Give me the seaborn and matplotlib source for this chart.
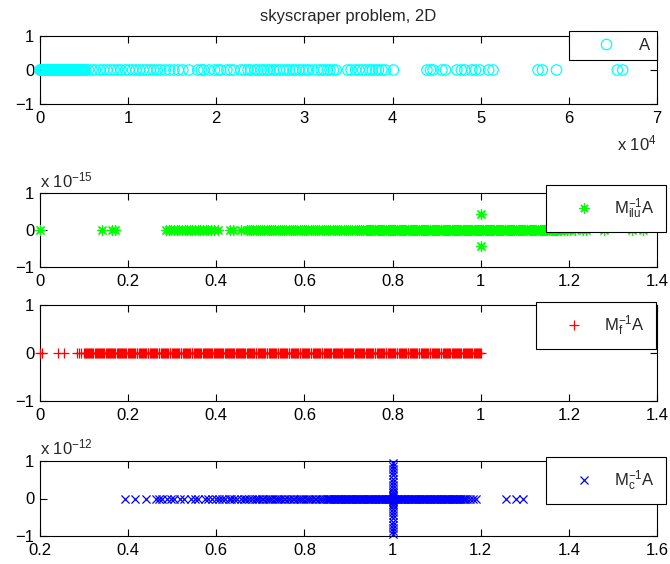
import matplotlib
matplotlib.use("Agg")
import matplotlib.pyplot as plt
from matplotlib.lines import Line2D
from matplotlib.ticker import FixedLocator, FuncFormatter
import seaborn as sns

# ---------------- data ----------------
title = "skyscraper problem, 2D"

# eigenvalues of A (real parts, units of 1e4); imaginary parts are 0
A_real_1e4 = [0.00, 0.01, 0.02, 0.03, 0.04, 0.05, 0.06, 0.07, 0.08, 0.09,
              0.10, 0.11, 0.12, 0.13, 0.14, 0.15, 0.16, 0.17, 0.18, 0.19,
              0.20, 0.21, 0.22, 0.23, 0.24, 0.25, 0.26, 0.27, 0.28, 0.29,
              0.30, 0.31, 0.32, 0.33, 0.34, 0.35, 0.36, 0.37, 0.38, 0.39,
              0.40, 0.41, 0.42, 0.43, 0.44, 0.45, 0.46, 0.47, 0.48, 0.49,
              0.50, 0.51, 0.52,
              0.55, 0.59, 0.63, 0.68, 0.72, 0.76, 0.80, 0.84, 0.88, 0.92, 0.97, 1.01,
              1.05, 1.09, 1.13, 1.17, 1.21, 1.25, 1.29, 1.33, 1.37, 1.42, 1.47, 1.52,
              1.57, 1.62, 1.69,
              1.79, 1.83, 1.86, 1.92, 1.98, 2.02, 2.05, 2.12, 2.16, 2.20, 2.28, 2.32,
              2.36, 2.39, 2.44, 2.47, 2.51, 2.54, 2.58, 2.61, 2.65, 2.68, 2.72, 2.76,
              2.80, 2.83, 2.87, 2.90, 2.94, 2.98, 3.02, 3.05, 3.10, 3.15, 3.19, 3.22,
              3.26, 3.29, 3.33, 3.36,
              3.49, 3.53, 3.58, 3.62, 3.66, 3.70, 3.74, 3.77, 3.81, 3.84, 3.88, 3.92, 4.01,
              4.39, 4.43, 4.46, 4.56, 4.60, 4.73, 4.78, 4.82, 4.90, 4.94, 4.99, 5.09, 5.14,
              5.65, 5.70, 5.86,
              6.55, 6.61]

# eigenvalues of M_ilu^-1 A (real parts, in thousandths); imaginary parts 0 except two
ilu_real_x1000 = [
    0, 140, 164, 170,
    285, 292, 298, 304, 310, 316, 322, 328, 334, 340, 346, 352, 358, 364, 370, 376,
    382, 388, 395, 405, 432, 437, 456,
    469, 474, 479, 484, 489, 494, 499, 504, 509, 514, 519, 524, 529, 534, 539, 544,
    549, 554, 559, 564, 569, 574, 579, 584, 589, 594, 599, 604, 609, 614, 619, 624,
    629, 634, 639, 644, 649, 654, 659, 664, 669, 674, 679, 684, 689, 694, 699, 704,
    709, 714, 719, 724, 729, 734, 739,
    741, 744, 746, 749, 751, 754, 756, 759, 761, 764, 766, 769, 771, 774, 776, 779,
    781, 784, 786, 789, 791, 794, 796, 799,
    801, 804, 806, 809, 811, 814, 816, 819, 821, 824, 826, 829, 831, 834, 836, 839,
    841, 844, 846, 849, 851, 854, 856, 859, 861, 864, 866, 869, 871, 874, 876, 879,
    881, 884, 886, 889, 891, 894, 896, 899,
    901, 904, 906, 909, 911, 914, 916, 919, 921, 924, 926, 929, 931, 934, 936, 939,
    941, 944, 946, 949, 951, 954, 956, 959, 961, 964, 966, 969, 971, 974, 976, 979,
    981, 984, 986, 989, 991, 994, 996, 999,
    1001, 1004, 1006, 1009, 1011, 1014, 1016, 1019, 1021, 1024, 1026, 1029, 1031,
    1034, 1036, 1039, 1041, 1044, 1046, 1049, 1051, 1054, 1056, 1059, 1061, 1064,
    1066, 1069, 1071, 1074, 1076, 1079, 1081, 1084, 1086, 1089, 1091, 1094, 1096,
    1099, 1101, 1104, 1106, 1109, 1111, 1114, 1116, 1119, 1121, 1124, 1126, 1129,
    1131, 1134, 1136, 1139, 1141, 1144, 1146, 1149, 1151, 1154, 1156, 1159, 1161,
    1164, 1166, 1169, 1171, 1174, 1176, 1179, 1181, 1183,
    1190, 1196, 1203, 1215, 1232, 1240, 1280, 1343, 1368]
ilu_complex_real = [1.000, 1.000]
ilu_complex_imag_1e15 = [0.42, -0.42]

# eigenvalues of M_f^-1 A (all real, in thousandths)
f_real_x1000 = [
    0, 4, 40, 54, 83, 88, 94, 99,
    101, 104, 106, 109, 111, 114, 116, 119, 121, 124, 126, 129, 131, 134, 136, 139,
    141, 144, 146, 149, 151, 154, 156, 159, 161, 164, 166, 169, 171, 174, 176, 179,
    181, 184, 186, 189, 191, 194, 196, 199, 201, 204, 206, 209, 211, 214, 216, 219,
    221, 224, 226, 229, 231, 234, 236, 239, 241, 244, 246, 249, 251, 254, 256, 259,
    261, 264, 266, 269, 271, 274, 276, 279, 281, 284, 286, 289, 291, 294, 296, 299,
    301, 304, 306, 309, 311, 314, 316, 319, 321, 324, 326, 329, 331, 334, 336, 339,
    341, 344, 346, 349, 351, 354, 356, 359, 361, 364, 366, 369, 371, 374, 376, 379,
    381, 384, 386, 389, 391, 394, 396, 399, 401, 404, 406, 409, 411, 414, 416, 419,
    421, 424, 426, 429, 431, 434, 436, 439, 441, 444, 446, 449, 451, 454, 456, 459,
    461, 464, 466, 469, 471, 474, 476, 479, 481, 484, 486, 489, 491, 494, 496, 499,
    501, 504, 506, 509, 511, 514, 516, 519, 521, 524, 526, 529, 531, 534, 536, 539,
    541, 544, 546, 549, 551, 554, 556, 559, 561, 564, 566, 569, 571, 574, 576, 579,
    581, 584, 586, 589, 591, 594, 596, 599, 601, 604, 606, 609, 611, 614, 616, 619,
    621, 624, 626, 629, 631, 634, 636, 639, 641, 644, 646, 649, 651, 654, 656, 659,
    661, 664, 666, 669, 671, 674, 676, 679, 681, 684, 686, 689, 691, 694, 696, 699,
    701, 704, 706, 709, 711, 714, 716, 719, 721, 724, 726, 729, 731, 734, 736, 739,
    741, 744, 746, 749, 751, 754, 756, 759, 761, 764, 766, 769, 771, 774, 776, 779,
    781, 784, 786, 789, 791, 794, 796, 799, 801, 804, 806, 809, 811, 814, 816, 819,
    821, 824, 826, 829, 831, 834, 836, 839, 841, 844, 846, 849, 851, 854, 856, 859,
    861, 864, 866, 869, 871, 874, 876, 879, 881, 884, 886, 889, 891, 894, 896, 899,
    901, 904, 906, 909, 911, 914, 916, 919, 921, 924, 926, 929, 931, 934, 936, 939,
    941, 944, 946, 949, 951, 954, 956, 959, 961, 964, 966, 969, 971, 974, 976, 979,
    981, 984, 986, 989, 991, 994, 996, 999, 1000]

# eigenvalues of M_c^-1 A (real parts, in thousandths); imaginary parts in units of 1e-12
c_real_x1000 = [
    394, 416, 440, 464, 469, 477, 489, 497, 503, 518, 526, 542, 552, 559, 574, 581,
    591, 600, 607, 613, 620, 628, 634, 641, 648, 655, 662, 668, 675, 681, 688,
    693, 697, 703, 707, 713, 717, 723, 727, 733, 737, 743, 747, 753, 757, 763, 767,
    773, 777, 783, 787, 793, 797, 803, 807, 813, 817, 823, 827, 833, 837, 843, 847,
    851, 854, 856, 859, 861, 864, 866, 869, 871, 874, 876, 879, 881, 884, 886, 889,
    891, 894, 896, 899, 901, 904, 906, 909, 911, 914, 916, 919, 921, 924, 926, 929,
    931, 934, 936, 939, 941, 944, 946, 949, 951, 954, 956, 959, 961, 964, 966, 969,
    971, 974, 976, 979, 981, 984, 986, 989, 991, 994, 996, 999, 1001, 1004, 1006,
    1009, 1011, 1014, 1016, 1019, 1021, 1024, 1026, 1029, 1031, 1034, 1036, 1039,
    1041, 1044, 1046, 1049, 1051, 1054, 1056, 1059, 1061, 1064, 1066, 1069, 1071,
    1074, 1076, 1079, 1081, 1084, 1086, 1089, 1091, 1094, 1096, 1099, 1101, 1104,
    1106, 1109, 1111, 1114, 1116, 1119, 1121, 1124, 1126, 1129, 1131, 1134, 1136,
    1139, 1141, 1144, 1146, 1149, 1151, 1154, 1156, 1159, 1161, 1164,
    1169, 1176, 1182, 1189, 1257, 1281, 1296]
c_complex_real = [1.000] * 28
c_complex_imag_1e12 = [0.95, 0.87, 0.78, 0.70, 0.62, 0.53, 0.45, 0.37, 0.28, 0.20,
                       0.15, 0.10, 0.06, 0.03, -0.03, -0.06, -0.10, -0.15,
                       -0.20, -0.28, -0.37, -0.45, -0.53, -0.62, -0.70, -0.78,
                       -0.87, -0.95]

labels = ["A", r"$\mathrm{M}_{\mathrm{ilu}}^{-1}\mathrm{A}$",
          r"$\mathrm{M}_{\mathrm{f}}^{-1}\mathrm{A}$", r"$\mathrm{M}_{\mathrm{c}}^{-1}\mathrm{A}$"]
x_ticks_A = [0, 1, 2, 3, 4, 5, 6, 7]
x_ticks_mid = [0, 0.2, 0.4, 0.6, 0.8, 1.0, 1.2, 1.4]
x_ticks_c = [0.2, 0.4, 0.6, 0.8, 1.0, 1.2, 1.4, 1.6]
y_ticks = [-1, 0, 1]

ilu_real = [v / 1000 for v in ilu_real_x1000]
f_real = [v / 1000 for v in f_real_x1000]
c_real = [v / 1000 for v in c_real_x1000]

# ---------------- style ----------------
sns.set_theme(style="white")
plt.rcParams["font.family"] = ["Liberation Sans", "DejaVu Sans"]
plt.rcParams["mathtext.fontset"] = "custom"
plt.rcParams["mathtext.rm"] = "Liberation Sans"
plt.rcParams["mathtext.it"] = "Liberation Sans:italic"
plt.rcParams["mathtext.sf"] = "Liberation Sans"
plt.rcParams["axes.unicode_minus"] = True

W, H = 670, 564
fig = plt.figure(figsize=(W / 100, H / 100), dpi=100)
fig.patch.set_facecolor("white")
FS = 12
MLW = 0.9


def px_axes(left, top, right, bottom):
    return fig.add_axes([left / W, 1 - bottom / H, (right - left) / W, (bottom - top) / H])


def fmt(v, pos):
    s = f"{v:g}"
    return s.replace("-", "\u2212")


def style_axes(ax, xlim, xticks):
    ax.set_xlim(*xlim)
    ax.set_ylim(-1, 1)
    ax.xaxis.set_major_locator(FixedLocator(xticks))
    ax.yaxis.set_major_locator(FixedLocator(y_ticks))
    ax.xaxis.set_major_formatter(FuncFormatter(fmt))
    ax.yaxis.set_major_formatter(FuncFormatter(fmt))
    ax.tick_params(direction="in", length=5, width=0.8, top=True, right=True,
                   bottom=True, left=True, labelsize=FS, colors="black")
    ax.tick_params(axis="x", pad=5)
    ax.tick_params(axis="y", pad=4)
    for sp in ax.spines.values():
        sp.set_visible(True)
        sp.set_color("black")
        sp.set_linewidth(0.8)
    ax.set_xlabel("")
    ax.set_ylabel("")
    ax.set_facecolor("white")
    ax.grid(False)


def add_legend(ax, handle, label, right_px, top_px, bp=0.42, hl=3.6):
    leg = ax.legend(handles=[handle], labels=[label], loc="upper right",
                    bbox_to_anchor=(right_px / W, 1 - top_px / H),
                    bbox_transform=fig.transFigure, frameon=True, fancybox=False,
                    shadow=False, framealpha=1, edgecolor="black", facecolor="white",
                    fontsize=FS, handlelength=hl, handletextpad=0.2,
                    borderpad=bp, borderaxespad=0)
    leg.get_frame().set_linewidth(0.8)
    leg.set_zorder(20)


def scatter(ax, x, y, marker, size, color, hollow=False):
    sns.scatterplot(x=x, y=y, ax=ax, marker=marker, s=size, color=color,
                    linewidth=MLW, clip_on=False, legend=False, zorder=3)
    coll = ax.collections[-1]
    coll.set_edgecolor(color)
    coll.set_linewidth(MLW)
    coll.set_snap(False)
    if hollow:
        coll.set_facecolor("none")
    else:
        coll.set_facecolor(color)


asterisk = (8, 2, 0)

# ---- panel 1: A ----
ax1 = px_axes(40, 36, 657, 104)
scatter(ax1, A_real_1e4, [0.0] * len(A_real_1e4), "o", 56, "#00ffff", hollow=True)
style_axes(ax1, (0, 7), x_ticks_A)
add_legend(ax1, Line2D([], [], ls="none", marker="o", ms=7.5, mfc="none",
                       mec="#00ffff", mew=MLW), labels[0], 657, 31)
fig.text(348 / W, 1 - 16 / H, title, ha="center", va="center", fontsize=FS)
fig.text(657 / W, 1 - 143 / H, r"x 10$^{\mathrm{4}}$", ha="right", va="center", fontsize=FS)

# ---- panel 2: M_ilu^-1 A ----
ax2 = px_axes(40, 193, 657, 267)
scatter(ax2, ilu_real, [0.0] * len(ilu_real), asterisk, 52, "#00ff00")
scatter(ax2, ilu_complex_real, ilu_complex_imag_1e15, asterisk, 52, "#00ff00")
style_axes(ax2, (0, 1.4), x_ticks_mid)
add_legend(ax2, Line2D([], [], ls="none", marker=asterisk, ms=7.2,
                       mec="#00ff00", color="#00ff00", mew=MLW), labels[1], 666, 185,
           bp=0.68, hl=3.2)
fig.text(40 / W, 1 - 180 / H, r"x 10$^{\mathrm{-15}}$", ha="left", va="center", fontsize=FS)

# ---- panel 3: M_f^-1 A ----
ax3 = px_axes(40, 305, 657, 401)
scatter(ax3, f_real, [0.0] * len(f_real), "+", 52, "#ff0000")
style_axes(ax3, (0, 1.4), x_ticks_mid)
add_legend(ax3, Line2D([], [], ls="none", marker="+", ms=7.2, mec="#ff0000",
                       color="#ff0000", mew=MLW), labels[2], 656, 302, bp=0.68, hl=3.2)

# ---- panel 4: M_c^-1 A ----
ax4 = px_axes(40, 461, 657, 536)
scatter(ax4, c_real, [0.0] * len(c_real), "x", 34, "#0000ff")
scatter(ax4, c_complex_real, c_complex_imag_1e12, "x", 34, "#0000ff")
style_axes(ax4, (0.2, 1.6), x_ticks_c)
add_legend(ax4, Line2D([], [], ls="none", marker="x", ms=5.8, mec="#0000ff",
                       color="#0000ff", mew=MLW), labels[3], 666, 457, bp=0.68, hl=3.2)
fig.text(40 / W, 1 - 447 / H, r"x 10$^{\mathrm{-12}}$", ha="left", va="center", fontsize=FS)

fig.savefig("out.png", dpi=100, facecolor="white")
